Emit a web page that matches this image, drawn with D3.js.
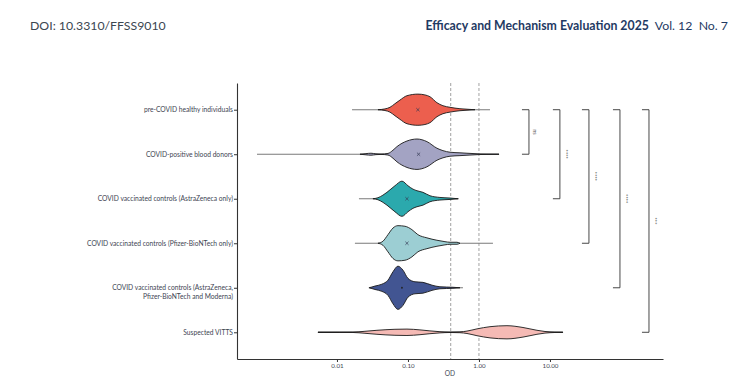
<!DOCTYPE html>
<html><head><meta charset="utf-8">
<script src="https://cdn.jsdelivr.net/npm/d3@7"></script>
<style>body{margin:0;background:#fff;} svg{display:block;font-family:Lato,"Open Sans",sans-serif;}</style>
</head><body>
<svg id="c" width="756" height="382"></svg>
<script>
// ---- data ----
const categories = [
  "pre-COVID healthy individuals",
  "COVID-positive blood donors",
  "COVID vaccinated controls (AstraZeneca only)",
  "COVID vaccinated controls (Pfizer-BioNTech only)",
  "COVID vaccinated controls (AstraZeneca,\nPfizer-BioNTech and Moderna)",
  "Suspected VITTS"
];
const fillColors = ["#EC5F4E","#A3A3C3","#2BA9AD","#9CCED3","#425592","#F5BAB5"];
// observed min / max OD per group
const rangeMin = [0.0163, 0.000747, 0.0204, 0.0179, 0.0292, 0.0054];
const rangeMax = [1.43, 1.914, 0.523, 1.574, 0.595, 15.2];
// mean OD per group (null = not shown)
const meanOD = [0.138, 0.141, 0.0968, 0.0968, 0.0823, null];
// violin density profiles: OD values and relative density
const violinOD = [
  [0.0378,0.0474,0.0558,0.0656,0.0771,0.0968,0.138,0.1734,0.204,0.256,0.311,0.391,0.54,0.747,0.879],
  [0.0211,0.0256,0.0301,0.0354,0.0417,0.0523,0.0615,0.070,0.0968,0.134,0.185,0.256,0.311,0.391,0.54,0.678,1.033,1.297,1.914],
  [0.0321,0.0378,0.0444,0.0506,0.0656,0.0823,0.1,0.1176,0.134,0.1626,0.204,0.282,0.391,0.506],
  [0.0378,0.0444,0.0523,0.0615,0.0723,0.0907,0.1138,0.138,0.185,0.256,0.332,0.391,0.49,0.54],
  [0.0282,0.0311,0.0343,0.043,0.0523,0.0615,0.0723,0.0851,0.1,0.1255,0.1626,0.218,0.282,0.43,0.54],
  [0.0054,0.011,0.0168,0.0248,0.0366,0.0656,0.0968,0.1476,0.204,0.282,0.391,0.54,0.678,0.937,1.429,2.48,4.17,6.56,8.51,11.75,15.2]
];
const violinDensity = [
  [0,0.04,0.12,0.3,0.48,0.7,0.78,0.74,0.65,0.35,0.2,0.12,0.05,0.015,0],
  [0,0.03,0.05,0.02,0.01,0.04,0.2,0.38,0.66,0.76,0.63,0.3,0.18,0.1,0.07,0.05,0.015,0.01,0.004],
  [0,0.05,0.18,0.32,0.65,0.88,0.65,0.48,0.4,0.32,0.15,0.065,0.035,0],
  [0,0.1,0.43,0.76,0.88,0.85,0.68,0.43,0.27,0.15,0.08,0.05,0.05,0],
  [0,0.04,0.085,0.18,0.38,0.8,1.08,0.88,0.47,0.3,0.27,0.13,0.05,0.025,0],
  [0.003,0.006,0.01,0.05,0.1,0.15,0.16,0.12,0.07,0.03,0.01,0.02,0.06,0.17,0.28,0.33,0.24,0.1,0.04,0.01,0.003]
];
const cutoffs = [0.4, 1.0];
const xTicks = [0.01, 0.1, 1, 10];
const xTickLabels = ["0.01","0.10","1.00","10.00"];
const xDomain = [0.000391, 390.8];
// significance comparisons (reference group 0 vs group)
const compTo = [1, 2, 3, 4, 5];
const compLabel = ["ns","****","****","****","***"];
const compPos = [5.06, 13.8, 35.4, 96.8, 248];

// ---- drawing ----
const svg = d3.select("#c");
const L = 237, R = 663, T = 83, B = 359;
const x = d3.scaleLog().domain(xDomain).range([L, R]);
const y = d3.scalePoint().domain(d3.range(categories.length)).range([T, B]).padding(0.6);
const w = d3.scaleLinear().domain([0, 1]).range([0, 20]);

// header
svg.append("text").attr("x", 30).attr("y", 30).attr("font-size", 12.3).attr("fill", "#3b4650").text("DOI: 10.3310/FFSS9010");
const hdr = svg.append("text").attr("x", 728).attr("y", 30).attr("font-size", 12.3).attr("text-anchor", "end");
hdr.append("tspan").attr("font-weight", "bold").attr("fill", "#1f3a63").text("Efficacy and Mechanism Evaluation 2025");
hdr.append("tspan").attr("fill", "#1f3a63").text("\u00a0 Vol. 12\u00a0 No. 7");

// cutoff lines
svg.selectAll("line.cut").data(cutoffs).join("line")
  .attr("x1", d => x(d)).attr("x2", d => x(d)).attr("y1", T).attr("y2", B)
  .attr("stroke", "#8a8a8a").attr("stroke-width", 0.8).attr("stroke-dasharray", "3,2");

// range lines
categories.forEach((c, i) => {
  svg.append("line").attr("x1", x(rangeMin[i])).attr("x2", x(rangeMax[i]))
    .attr("y1", y(i)).attr("y2", y(i)).attr("stroke", i === 5 ? "#222" : "#7a7a7a").attr("stroke-width", 1.1);
});

// violins
categories.forEach((c, i) => {
  const pts = violinOD[i].map((v, k) => ({od: v, d: violinDensity[i][k]}));
  const area = d3.area().curve(d3.curveMonotoneX)
    .x(p => x(p.od)).y0(p => y(i) - w(p.d)).y1(p => y(i) + w(p.d));
  svg.append("path").attr("d", area(pts)).attr("fill", fillColors[i])
    .attr("stroke", "#1a1a1a").attr("stroke-width", 0.9);
});

// mean markers
categories.forEach((c, i) => {
  if (meanOD[i] == null) return;
  const cx = x(meanOD[i]), cy = y(i), s = 1.6;
  if (i === 4) {
    svg.append("circle").attr("cx", cx).attr("cy", cy).attr("r", 0.9).attr("fill", "#222");
  } else {
    svg.append("path").attr("d", `M${cx-s},${cy-s}L${cx+s},${cy+s}M${cx-s},${cy+s}L${cx+s},${cy-s}`)
      .attr("stroke", "#333a55").attr("stroke-width", 0.7);
  }
});

// axes
const xAxis = svg.append("g").attr("transform", `translate(0,${B})`)
  .call(d3.axisBottom(x).tickValues(xTicks).tickFormat((d, k) => xTickLabels[k]).tickSize(3).tickSizeOuter(0));
xAxis.select(".domain").attr("stroke", "#333").attr("stroke-width", 1.1);
xAxis.selectAll(".tick line").attr("stroke", "#333");
xAxis.selectAll(".tick text").attr("font-size", 6.2).attr("fill", "#444a55").attr("font-family", "Lato").attr("dy", "0.5em");

const yAxis = svg.append("g").attr("transform", `translate(${L},0)`)
  .call(d3.axisLeft(y).tickFormat("").tickSize(3).tickSizeOuter(0));
yAxis.select(".domain").attr("stroke", "#333").attr("stroke-width", 1.1);
yAxis.selectAll(".tick line").attr("stroke", "#333");
categories.forEach((c, i) => {
  const lines = c.split("\n");
  const t = svg.append("text").attr("x", L - 4).attr("y", y(i)).attr("text-anchor", "end")
    .attr("font-size", 6.7).attr("fill", "#3e4452");
  lines.forEach((ln, k) => t.append("tspan").attr("x", L - 4).attr("dy", k === 0 ? "0.35em" : "1.3em").text(ln));
});

svg.append("text").attr("x", (L + R) / 2).attr("y", 376).attr("text-anchor", "middle")
  .attr("font-size", 6.6).attr("fill", "#444a55").text("OD");

// significance brackets
compTo.forEach((g, k) => {
  const bx = x(compPos[k]), y0 = y(0), y1 = y(g), tip = 7;
  svg.append("path").attr("d", `M${bx-tip},${y0}L${bx},${y0}L${bx},${y1}L${bx-tip},${y1}`)
    .attr("fill", "none").attr("stroke", "#333").attr("stroke-width", 0.9);
  const ty = (y0 + y1) / 2;
  svg.append("text").attr("transform", `translate(${bx + 4},${ty}) rotate(90)`)
    .attr("text-anchor", "middle").attr("font-size", 5.5).attr("fill", "#555").text(compLabel[k]);
});
</script>
</body></html>
